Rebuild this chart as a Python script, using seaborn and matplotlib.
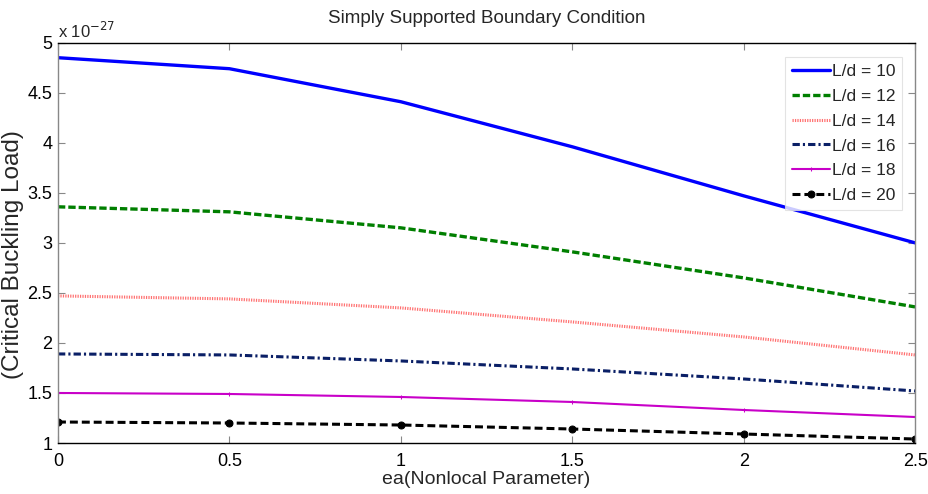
import matplotlib
matplotlib.use("Agg")
import matplotlib.pyplot as plt
import seaborn as sns
import pandas as pd

ea = [0, 0.5, 1.0, 1.5, 2.0, 2.5]
labels = ["L/d = 10", "L/d = 12", "L/d = 14", "L/d = 16", "L/d = 18", "L/d = 20"]
ld10 = [4.85, 4.74, 4.41, 3.96, 3.47, 3.00]
ld12 = [3.36, 3.31, 3.15, 2.91, 2.65, 2.36]
ld14 = [2.47, 2.44, 2.35, 2.21, 2.06, 1.88]
ld16 = [1.89, 1.88, 1.82, 1.74, 1.64, 1.52]
ld18 = [1.50, 1.49, 1.46, 1.41, 1.33, 1.26]
ld20 = [1.21, 1.20, 1.18, 1.14, 1.09, 1.04]
series = [ld10, ld12, ld14, ld16, ld18, ld20]

sns.set_theme(style="white")
plt.rcParams["font.family"] = ["Liberation Sans", "DejaVu Sans"]

styles = [
    dict(color="#0000ff", linestyle="-", linewidth=2.4, marker=None),
    dict(color="#007f00", linestyle=(0, (2.2, 0.9)), linewidth=2.4, marker=None),
    dict(color="#ff7070", linestyle=(0, (0.4, 0.4)), linewidth=2.2, marker=None),
    dict(color="#0a1f66", linestyle=(0, (2.4, 1.0, 0.7, 1.0)), linewidth=2.2, marker=None),
    dict(color="#c800c8", linestyle="-", linewidth=1.5, marker="+", markersize=3),
    dict(color="#000000", linestyle=(0, (2.6, 1.3)), linewidth=2.2, marker="o", markersize=5),
]

fig = plt.figure(figsize=(9.29, 4.94), dpi=100)
ax = fig.add_axes([0.0624, 0.1032, 0.9226, 0.8104])

for lab, vals, st in zip(labels, series, styles):
    df = pd.DataFrame({"ea": ea, "P": vals})
    kw = dict(color=st["color"], linestyle=st["linestyle"], linewidth=st["linewidth"])
    if st["marker"]:
        kw["marker"] = st["marker"]
        kw["markersize"] = st["markersize"]
        kw["markeredgecolor"] = st["color"]
    sns.lineplot(data=df, x="ea", y="P", ax=ax, label=lab, **kw)

ax.set_xlim(0, 2.5)
ax.set_ylim(1, 5)
ax.set_xticks([0, 0.5, 1, 1.5, 2, 2.5])
ax.set_xticklabels(["0", "0.5", "1", "1.5", "2", "2.5"])
ax.set_yticks([1, 1.5, 2, 2.5, 3, 3.5, 4, 4.5, 5])
ax.set_yticklabels(["1", "1.5", "2", "2.5", "3", "3.5", "4", "4.5", "5"])
ax.tick_params(direction="in", length=5, width=0.8, colors="#888888",
               labelcolor="black", labelsize=13, top=True, right=True,
               bottom=True, left=True, pad=4)
ax.tick_params(axis="x", pad=7)
for side in ["left", "right"]:
    ax.spines[side].set_color("#888888")
for side in ["top", "bottom"]:
    ax.spines[side].set_color("black")
for s in ax.spines.values():
    s.set_linewidth(1.0)

ax.set_xlabel("ea(Nonlocal Parameter)", fontsize=14, labelpad=1)
ax.set_ylabel("(Critical Buckling Load)", fontsize=17.5)
ax.yaxis.set_label_coords(-0.053, 0.47)
ax.yaxis.label.set_va("center")
ax.set_title("Simply Supported Boundary Condition", fontsize=13.5, pad=14)
ax.text(0.0, 1.005, "x 10$^{-27}$", transform=ax.transAxes, fontsize=12,
        ha="left", va="bottom")

leg = ax.legend(loc="upper right", fontsize=12.5, handlelength=2.2,
                handletextpad=0.1, labelspacing=0.55, borderpad=0.4,
                frameon=True, fancybox=False, edgecolor="#dddddd",
                bbox_to_anchor=(0.995, 0.985))
leg.get_frame().set_linewidth(0.8)

fig.savefig("out.png", dpi=100)
